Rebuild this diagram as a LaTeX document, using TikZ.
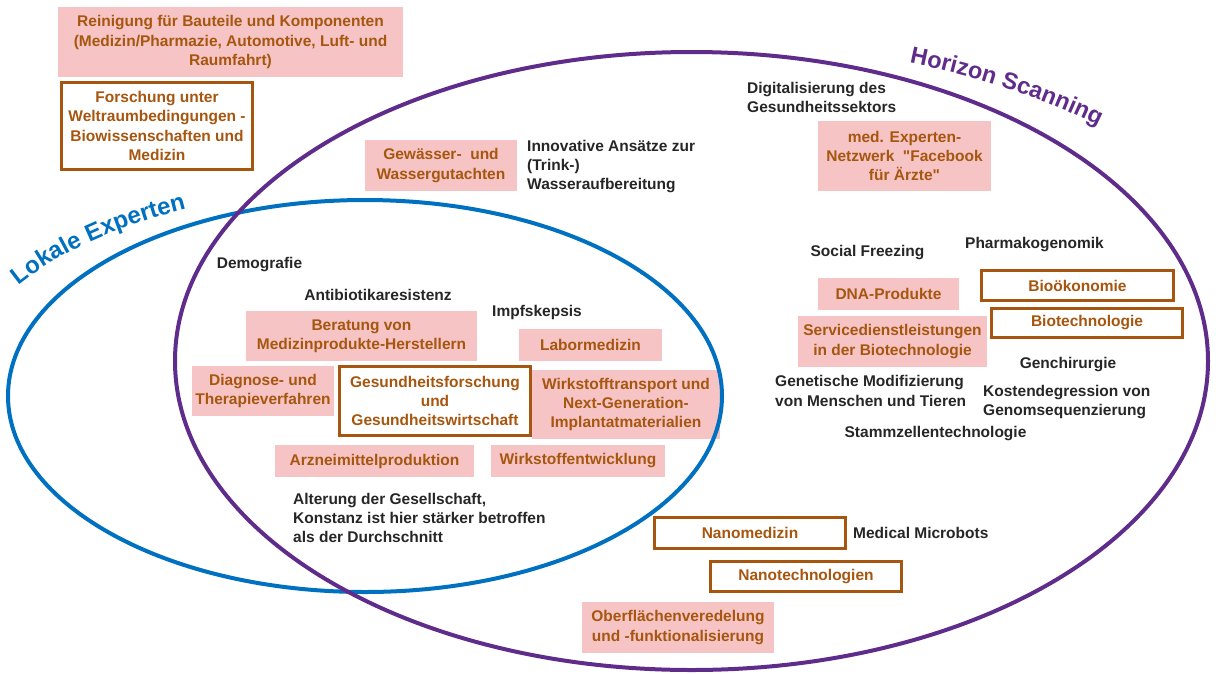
\documentclass[tikz,border=0pt]{standalone}
\usepackage{fontspec}
\setmainfont{Liberation Sans}
% same face without the TeX quote mapping, for straight double quotes
\newfontfamily\straightquotes{Liberation Sans}
\newcommand{\dq}{{\straightquotes\bfseries"}}
\usetikzlibrary{decorations.text}

\definecolor{pinkfill}{RGB}{246,196,196}
\definecolor{rustbrown}{RGB}{166,86,14}
\definecolor{inkgray}{RGB}{38,38,38}
\definecolor{localblue}{RGB}{0,112,192}
\definecolor{scanpurple}{RGB}{96,44,140}

\tikzset{
  lbl/.style={font=\bfseries\fontsize{15.5}{19.3}\selectfont, inner sep=0pt, align=center},
  pinkbox/.style={lbl, fill=pinkfill, text=rustbrown},
  framebox/.style={lbl, draw=rustbrown, line width=3pt, fill=white, text=rustbrown},
  note/.style={lbl, text=inkgray},
  notel/.style={note, align=left, anchor=west},
  ring/.style={line width=4pt},
}

\begin{document}
\begin{tikzpicture}[x=1pt, y=1pt]
\useasboundingbox (0,0) rectangle (1216,-673);

% shaded topic boxes
\node[pinkbox, minimum width=345, minimum height=70] (reinigung) at (230.5,-42)
  {Reinigung für Bauteile und Komponenten\\(Medizin/Pharmazie, Automotive, Luft- und\\Raumfahrt)};
\node[pinkbox, minimum width=152, minimum height=51] (gewaesser) at (441,-165.5)
  {Gewässer-~~und\\Wassergutachten};
\node[pinkbox, minimum width=173, minimum height=70] (medexp) at (904.5,-156)
  {med. Experten-\\Netzwerk~~\dq Facebook\\für Ärzte\dq};
\node[pinkbox, minimum width=231, minimum height=50] (beratung) at (361.5,-336)
  {Beratung von\\Medizinprodukte-Herstellern};
\node[pinkbox, minimum width=143, minimum height=32] (labor) at (590.5,-345)
  {Labormedizin};
\node[pinkbox, minimum width=142, minimum height=50] (diagnose) at (263,-391)
  {Diagnose- und\\Therapieverfahren};
\node[pinkbox, minimum width=188, minimum height=69] (transport) at (626,-404.5)
  {Wirkstofftransport und\\Next-Generation-\\Implantatmaterialien};
\node[pinkbox, minimum width=199, minimum height=32] (arznei) at (374.5,-461)
  {Arzneimittelproduktion};
\node[pinkbox, minimum width=174, minimum height=32] (entwicklung) at (578,-461)
  {Wirkstoffentwicklung};
\node[pinkbox, minimum width=141, minimum height=32] (dna) at (888.5,-294)
  {DNA-Produkte};
\node[pinkbox, minimum width=189, minimum height=51] (service) at (892.5,-341.5)
  {Servicedienstleistungen\\in der Biotechnologie};
\node[pinkbox, minimum width=192, minimum height=51] (oberflaeche) at (678,-627.5)
  {Oberflächenveredelung\\und -funktionalisierung};

% the two circles of experts
\draw[ring, localblue] (365,-396) ellipse [x radius=357, y radius=196];
\draw[ring, scanpurple] (691.5,-361) ellipse [x radius=516.5, y radius=309];

% curved circle titles
\path[decorate, decoration={text along path, text color=localblue,
    text={|\bfseries\fontsize{24}{24}\selectfont|Lokale Experten}}]
  (365,-396) ++(147.8:409 and 208)
  arc[start angle=147.8, end angle=100, x radius=409, y radius=208];
\path[decorate, decoration={text along path, text color=scanpurple,
    text={|\bfseries\fontsize{23.5}{23.5}\selectfont|Horizon Scanning}}]
  (691.5,-361) ++(68.7:600 and 320)
  arc[start angle=68.7, end angle=30, x radius=600, y radius=320];

% framed key fields
\node[framebox, minimum width=191, minimum height=87] (forschung) at (157,-126)
  {Forschung unter\\Weltraumbedingungen -\\Biowissenschaften und\\Medizin};
\node[framebox, minimum width=191, minimum height=69] (gesundheit) at (435,-401)
  {Gesundheitsforschung\\und\\Gesundheitswirtschaft};
\node[framebox, minimum width=192, minimum height=30] (biooek) at (1077.5,-285.5)
  {Bioökonomie};
\node[framebox, minimum width=191, minimum height=29] (biotech) at (1087,-323)
  {Biotechnologie};
\node[framebox, minimum width=191, minimum height=31] (nanomed) at (750,-533)
  {Nanomedizin};
\node[framebox, minimum width=191, minimum height=30] (nanotech) at (806,-576.5)
  {Nanotechnologien};

% trend notes
\node[notel] (innovativ) at (527,-166.5) {Innovative Ansätze zur\\(Trink-)\\Wasseraufbereitung};
\node[notel] (digital) at (747,-97.5) {Digitalisierung des\\Gesundheitssektors};
\node[note] (demografie) at (259.5,-265) {Demografie};
\node[note] (antibiotika) at (378,-295) {Antibiotikaresistenz};
\node[note] (impf) at (537,-312) {Impfskepsis};
\node[notel] (alterung) at (293,-518) {Alterung der Gesellschaft,\\Konstanz ist hier stärker betroffen\\als der Durchschnitt};
\node[note] (freezing) at (867.5,-253) {Social Freezing};
\node[note] (pharmako) at (1034.5,-245) {Pharmakogenomik};
\node[note] (genchir) at (1068,-365) {Genchirurgie};
\node[notel] (genmod) at (775,-391) {Genetische Modifizierung\\von Menschen und Tieren};
\node[notel] (kosten) at (983,-402) {Kostendegression von\\Genomsequenzierung};
\node[note] (stamm) at (935.5,-434) {Stammzellentechnologie};
\node[notel] (microbots) at (853,-533) {Medical Microbots};
\end{tikzpicture}
\end{document}
